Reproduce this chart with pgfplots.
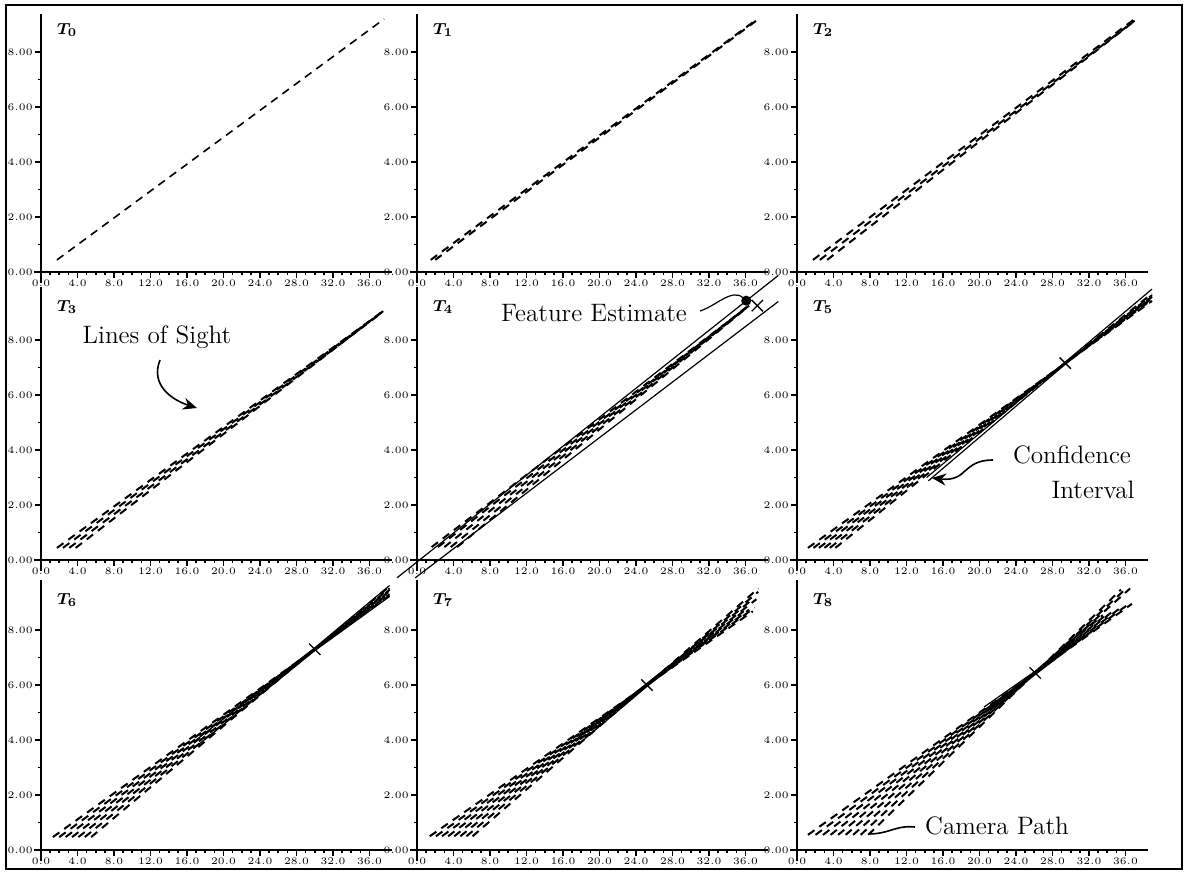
\documentclass[border=0pt]{standalone}
\usepackage{pgfplots}
\pgfplotsset{compat=1.18}
\usetikzlibrary{arrows.meta}
\tikzset{lab/.style={font=\fontsize{8.5}{8.5}\selectfont\boldmath, anchor=north west}}
\pgfplotsset{
  panel/.style={
    axis lines=middle, axis line style={-, line width=1pt},
    x=4.5625pt, y=13.75pt,
    xmin=-0.8, xmax=38.5, ymin=-0.4,
    xtick={0,4,...,36}, ytick={0,2,4,6,8},
    minor x tick num=3, minor y tick num=1,
    tick align=outside, major tick length=3pt, minor tick length=1.6pt,
    every tick/.style={line width=0.8pt, black},
    hide obscured x ticks=false, hide obscured y ticks=false,
    xticklabel={\pgfmathprintnumber[fixed,fixed zerofill,precision=1]{\tick}},
    yticklabel={\pgfmathprintnumber[fixed,fixed zerofill,precision=2]{\tick}},
    ticklabel style={font=\fontsize{4.5}{4.5}\selectfont\bfseries, inner sep=1pt},
    anchor=south west, clip=false,
  },
  los/.style={black, line width=1pt, dash pattern=on 4pt off 3pt},
  ci/.style={black, line width=0.6pt},
  est/.style={only marks, mark=x, mark size=4pt, mark options={line width=0.7pt}},
}
\begin{document}
\begin{tikzpicture}
% ---------------- row 1 ----------------
\begin{axis}[panel, ymax=9.38, at={(16.85pt,-141.5pt)}]
\node[lab] at (axis cs:1.0,9.3) {$T_0$};
\addplot[black, line width=0.8pt, dash pattern=on 4pt off 3pt] coordinates {(1.75,0.44) (37.6,9.2)};
\end{axis}
\begin{axis}[panel, ymax=9.38, at={(204.85pt,-141.5pt)}]
\node[lab] at (axis cs:1.0,9.3) {$T_1$};
\addplot[los] coordinates {(1.5,0.44) (37.3,9.2)};
\addplot[los] coordinates {(2.0,0.44) (37.3,9.17)};
\end{axis}
\begin{axis}[panel, ymax=9.38, at={(394.85pt,-141.5pt)}]
\node[lab] at (axis cs:1.0,9.3) {$T_2$};
\addplot[los] coordinates {(1.75,0.44) (37.0,9.2)};
\addplot[los] coordinates {(2.5,0.44) (37.0,9.14)};
\addplot[los] coordinates {(3.3,0.44) (36.8,9.08)};
\end{axis}
% ---------------- row 2 ----------------
\begin{axis}[panel, ymax=9.93, at={(16.85pt,-285.5pt)}]
\node[lab] at (axis cs:1.0,9.7) {$T_3$};
\addplot[los] coordinates {(1.75,0.44) (37.7,9.1)};
\addplot[los] coordinates {(2.4,0.44) (37.5,9.05)};
\addplot[los] coordinates {(3.1,0.44) (37.3,8.98)};
\addplot[los] coordinates {(3.8,0.44) (37.6,9.08)};
\end{axis}
\begin{axis}[panel, ymax=9.93, at={(204.85pt,-285.5pt)}]
\node[lab] at (axis cs:1.0,9.7) {$T_4$};
\addplot[los] coordinates {(1.6,0.47) (36.4,9.25)};
\addplot[los] coordinates {(2.3,0.47) (36.2,9.2)};
\addplot[los] coordinates {(3.0,0.47) (36.5,9.3)};
\addplot[los] coordinates {(3.7,0.47) (36.0,9.15)};
\addplot[los] coordinates {(4.4,0.47) (36.3,9.22)};
\addplot[ci] coordinates {(-2.2,-0.65) (39.6,10.35)};
\addplot[ci] coordinates {(-0.2,-0.65) (39.6,9.4)};
\addplot[est] coordinates {(37.3,9.25)};
\end{axis}
\begin{axis}[panel, ymax=9.93, at={(394.85pt,-285.5pt)}]
\node[lab] at (axis cs:1.0,9.7) {$T_5$};
\addplot[los] coordinates {(1.2,0.44) (38.9,9.42)};
\addplot[los] coordinates {(1.8,0.44) (38.9,9.47)};
\addplot[los] coordinates {(2.4,0.44) (38.9,9.52)};
\addplot[los] coordinates {(3.0,0.44) (38.9,9.58)};
\addplot[los] coordinates {(3.6,0.44) (38.9,9.63)};
\addplot[los] coordinates {(4.2,0.44) (38.9,9.69)};
\addplot[ci] coordinates {(14.2,3.0) (29.4,7.2) (38.9,9.85)};
\addplot[ci] coordinates {(14.4,2.88) (29.4,7.12) (38.9,9.55)};
\addplot[est] coordinates {(29.4,7.16)};
\end{axis}
% ---------------- row 3 ----------------
\begin{axis}[panel, ymax=9.82, at={(16.85pt,-430.5pt)}]
\node[lab] at (axis cs:1.0,9.6) {$T_6$};
\addplot[los] coordinates {(1.3,0.47) (38.2,9.25)};
\addplot[los] coordinates {(2.0,0.47) (38.2,9.30)};
\addplot[los] coordinates {(2.7,0.47) (38.2,9.35)};
\addplot[los] coordinates {(3.4,0.47) (38.2,9.41)};
\addplot[los] coordinates {(4.1,0.47) (38.2,9.46)};
\addplot[los] coordinates {(4.8,0.47) (38.2,9.52)};
\addplot[los] coordinates {(5.5,0.47) (38.2,9.59)};
\addplot[ci] coordinates {(16.8,3.95) (30.0,7.35) (38.2,9.62)};
\addplot[ci] coordinates {(17.2,3.82) (30.0,7.25) (38.2,9.22)};
\addplot[est] coordinates {(30.0,7.3)};
\end{axis}
\begin{axis}[panel, ymax=9.82, at={(204.85pt,-430.5pt)}]
\node[lab] at (axis cs:1.0,9.6) {$T_7$};
\addplot[los] coordinates {(1.4,0.5) (36.8,8.68)};
\addplot[los] coordinates {(2.07,0.5) (37.0,8.81)};
\addplot[los] coordinates {(2.74,0.5) (36.4,8.74)};
\addplot[los] coordinates {(3.41,0.5) (35.8,8.68)};
\addplot[los] coordinates {(4.08,0.5) (37.2,9.12)};
\addplot[los] coordinates {(4.75,0.5) (36.6,9.07)};
\addplot[los] coordinates {(5.42,0.5) (37.4,9.39)};
\addplot[los] coordinates {(6.09,0.5) (37.4,9.51)};
\addplot[ci] coordinates {(17.3,3.98) (25.2,6.06) (32.6,8.0)};
\addplot[ci] coordinates {(17.7,3.85) (25.2,5.95) (32.6,7.85)};
\addplot[est] coordinates {(25.2,6.0)};
\end{axis}
\begin{axis}[panel, ymax=9.82, at={(394.85pt,-430.5pt)}]
\node[lab] at (axis cs:1.0,9.6) {$T_8$};
\addplot[los] coordinates {(1.2,0.55) (36.7,8.95)};
\addplot[los] coordinates {(2.025,0.55) (36.2,8.91)};
\addplot[los] coordinates {(2.85,0.55) (35.5,8.82)};
\addplot[los] coordinates {(3.675,0.55) (34.8,8.73)};
\addplot[los] coordinates {(4.5,0.55) (34.0,8.59)};
\addplot[los] coordinates {(5.325,0.55) (33.5,8.54)};
\addplot[los] coordinates {(6.15,0.55) (36.5,9.51)};
\addplot[los] coordinates {(6.975,0.55) (36.0,9.49)};
\addplot[los] coordinates {(7.8,0.55) (35.5,9.47)};
\addplot[ci] coordinates {(20.5,5.2) (26.1,6.5) (32.5,8.3)};
\addplot[ci] coordinates {(21.0,5.1) (26.1,6.38) (32.5,8.0)};
\addplot[est] coordinates {(26.1,6.44)};
\end{axis}
% ---------------- annotations (pixel units) ----------------
\begin{scope}[x=0.5pt,y=-0.5pt, every node/.style={font=\fontsize{12.6}{14}\selectfont}]
\draw[line width=1.1pt] (6,5) rectangle (1182,869);
\node at (157,337) {Lines of Sight};
\draw[line width=0.8pt, -{Stealth[length=7pt,width=6pt]}] (160,360) .. controls (150,385) and (172,400) .. (197,408);
\node at (594,313) {Feature Estimate};
\draw[line width=0.6pt, -{Circle[length=5pt]}] (700,311) .. controls (716,306) and (732,288) .. (750,304);
\node at (1072,455) {Confidence};
\node at (1093,490) {Interval};
\draw[line width=0.8pt, -{Stealth[length=7pt,width=6pt]}] (993,460) .. controls (962,460) and (968,482) .. (932,478);
\node at (997,826) {Camera Path};
\draw[line width=0.8pt] (915,827) .. controls (895,825) and (890,834) .. (868,834);
\pgfresetboundingbox
\path (0,0) rectangle (1185,873);
\end{scope}
\end{tikzpicture}
\end{document}
